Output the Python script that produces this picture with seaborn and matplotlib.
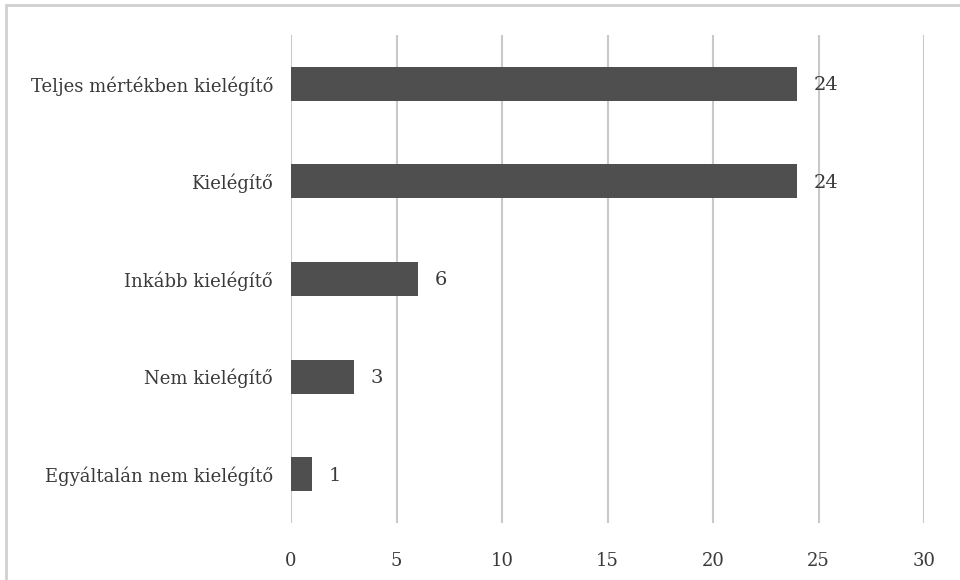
import matplotlib
matplotlib.use("Agg")
import matplotlib.pyplot as plt
import pandas as pd
import seaborn as sns
from matplotlib.patches import Rectangle

categories = ["Teljes mértékben kielégítő", "Kielégítő", "Inkább kielégítő",
              "Nem kielégítő", "Egyáltalán nem kielégítő"]
counts = [24, 24, 6, 3, 1]
x_ticks = [0, 5, 10, 15, 20, 25, 30]

BAR_COLOR = "#4f4f4f"
GRID_COLOR = "#c9c9c9"
TEXT_COLOR = "#3a3a3a"

sns.set_theme(style="white")
plt.rcParams["font.family"] = ["DejaVu Serif"]

df = pd.DataFrame({"category": categories, "count": counts})

fig = plt.figure(figsize=(9.6, 5.8), dpi=100)
ax = fig.add_axes([291 / 960, 1 - 523 / 580, 633 / 960, (523 - 35) / 580])

sns.barplot(data=df, y="category", x="count", orient="h", color=BAR_COLOR,
            width=0.35, saturation=1, linewidth=0, ax=ax, zorder=3)

ax.set_xlim(0, 30)
ax.set_ylim(4.5, -0.5)
ax.set_xticks(x_ticks)
ax.set_xticklabels([str(t) for t in x_ticks])
for t in x_ticks:
    ax.axvline(t, color=GRID_COLOR, lw=1.5, zorder=1)

for sp in ax.spines.values():
    sp.set_visible(False)

ax.set_xlabel("")
ax.set_ylabel("")
ax.tick_params(axis="x", length=0, pad=21, labelsize=13, labelcolor=TEXT_COLOR)
ax.tick_params(axis="y", length=0, pad=13, labelsize=13, labelcolor=TEXT_COLOR)

for i, v in enumerate(counts):
    ax.annotate(str(v), xy=(v, i), xytext=(12, -1), textcoords="offset points",
                ha="left", va="center", fontsize=14, color=TEXT_COLOR)

# light frame around the chart area (cut off at the right and bottom)
fig.patches.append(Rectangle((6 / 960, -0.1), 1.2, 1 - 5 / 580 + 0.1,
                             transform=fig.transFigure, fill=False,
                             edgecolor="#d0d0d0", lw=2))

fig.savefig("out.png", dpi=100)
